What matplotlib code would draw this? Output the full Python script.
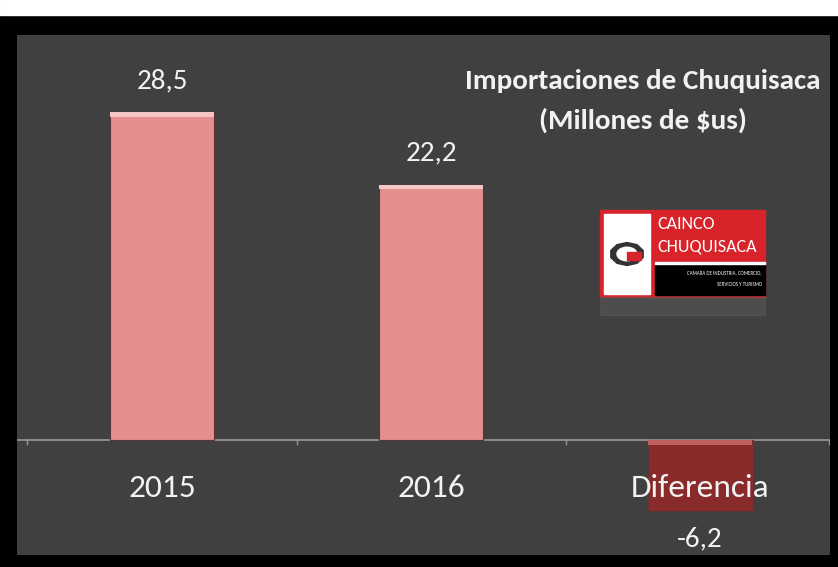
import matplotlib
matplotlib.use("Agg")
import matplotlib.pyplot as plt
from matplotlib.patches import Rectangle, Circle, RegularPolygon
from matplotlib import font_manager

categories = ["2015", "2016", "Diferencia"]
values = [28.5, 22.2, -6.2]
value_labels = ["28,5", "22,2", "-6,2"]
title_lines = ["Importaciones de Chuquisaca", "(Millones de $us)"]

names = {f.name for f in font_manager.fontManager.ttflist}
narrow = next((n for n in ["Carlito", "Calibri", "Roboto Condensed", "Open Sans Condensed",
                           "Liberation Sans Narrow", "Archivo Narrow", "PT Sans Narrow",
                           "DejaVu Sans"] if n in names), "DejaVu Sans")

bg = "#404040"
txt = "#f2f2f2"

fig = plt.figure(figsize=(8.38, 5.67), dpi=100, facecolor="black")
# white strip along the top
fig.add_artist(Rectangle((0, 1 - 15 / 567), 1, 15 / 567, transform=fig.transFigure,
                         color="white", zorder=0))

ax = fig.add_axes([17 / 838, 12 / 567, 813 / 838, 520 / 567])
ax.set_facecolor(bg)
ax.set_xlim(-0.539, 2.483)
ax.set_ylim(-10.0, 35.2)
for s in ax.spines.values():
    s.set_visible(False)
ax.set_xticks([])
ax.set_yticks([])

ax.axhline(0, color="#9a9a9a", lw=1.2, zorder=1)
for xt in [-0.5, 0.5, 1.5, 2.48]:
    ax.plot([xt, xt], [0, -0.35], color="#9a9a9a", lw=1, zorder=1)

colors = ["#e58e8e", "#e58e8e", "#8a2b2b"]
tops = ["#f6c6c6", "#f6c6c6", "#c06060"]
ax.bar(range(3), values, width=0.39, color=colors, edgecolor="#5a3535", lw=0.8, zorder=2)
for i, (v, c) in enumerate(zip(values, tops)):
    edge = v if v > 0 else 0
    ax.bar(i, -0.4, bottom=edge, width=0.385, color=c, zorder=3)

for i, (v, lab) in enumerate(zip(values, value_labels)):
    y = v + 2.75 if v > 0 else v - 2.4
    ax.text(i, y, lab, ha="center", va="center", color=txt, fontsize=21, family=narrow)
    ax.text(i, -4.2, categories[i], ha="center", va="center", color=txt, fontsize=24,
            family=narrow, zorder=4)

fig.text(643 / 838, 1 - 81 / 567, title_lines[0], ha="center", va="center", color=txt,
         fontsize=21, fontweight="bold", family=narrow)
fig.text(643 / 838, 1 - 120 / 567, title_lines[1], ha="center", va="center", color=txt,
         fontsize=21, fontweight="bold", family=narrow)

# logo block
def px(x, y, w, h, **kw):
    return Rectangle((x / 838, 1 - (y + h) / 567), w / 838, h / 567,
                     transform=fig.transFigure, **kw)

fig.add_artist(px(600, 210, 165, 87, color="#d8232a", zorder=5))
fig.add_artist(px(604, 214, 46, 80, color="white", zorder=6))
fig.add_artist(px(655, 265, 110, 30, color="black", zorder=6))
fig.add_artist(px(655, 262, 110, 2, color="white", zorder=6))
fig.add_artist(RegularPolygon((627 / 838, 1 - 254 / 567), 10, radius=17 / 838,
                              transform=fig.transFigure, color="#333333", zorder=7))
fig.add_artist(Circle((627 / 838, 1 - 254 / 567), 10 / 838, transform=fig.transFigure,
                      color="white", zorder=8))
fig.add_artist(px(627, 252, 14, 8, color="#d8232a", zorder=9))
fig.text(657 / 838, 1 - 224 / 567, "CAINCO", color="white", fontsize=13,
         family=narrow, va="center", zorder=10)
fig.text(657 / 838, 1 - 246 / 567, "CHUQUISACA", color="white", fontsize=13,
         family=narrow, va="center", zorder=10)
fig.text(762 / 838, 1 - 273 / 567, "CAMARA DE INDUSTRIA, COMERCIO,", color="white",
         fontsize=3.6, family=narrow, ha="right", va="center", zorder=10)
fig.text(762 / 838, 1 - 285 / 567, "SERVICIOS Y TURISMO", color="white",
         fontsize=3.6, family=narrow, ha="right", va="center", zorder=10)
# faint reflection under the logo
fig.add_artist(px(600, 297, 165, 18, color="#5a5a5a", alpha=0.5, zorder=5))

fig.savefig("out.png", dpi=100, facecolor="black")
